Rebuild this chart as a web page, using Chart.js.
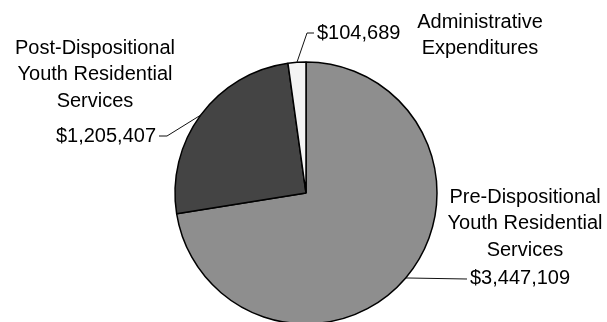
<!DOCTYPE html>
<html>
<head>
<meta charset="utf-8">
<script src="https://cdn.jsdelivr.net/npm/chart.js@4/dist/chart.umd.min.js"></script>
<style>
  html, body { margin: 0; padding: 0; background: #fff; overflow: hidden; }
  #wrap { width: 607px; height: 322px; overflow: hidden; }
</style>
</head>
<body>
<div id="wrap"><canvas id="pie" width="607" height="330"></canvas></div>
<script>
const categories = [
  ["Pre-Dispositional", "Youth Residential", "Services"],
  ["Post-Dispositional", "Youth Residential", "Services"],
  ["Administrative", "Expenditures"]
];
const amounts = [3447109, 1205407, 104689];
const sliceColors = ["#8e8e8e", "#444444", "#f4f4f4"];

const fmt = v => "$" + v.toLocaleString("en-US");

// leader line bends and label anchors, one per slice
const callouts = [
  { elbow: [467, 279], end: [467, 279], value: [470, 278, "left"], name: [525, 197] },
  { elbow: [167, 136], end: [159, 136], value: [156, 136, "right"], name: [95, 48] },
  { elbow: [307, 33], end: [314, 33], value: [317, 33, "left"], name: [480, 22] }
];

const FONT = "20px 'Liberation Sans', Arial, sans-serif";
const LINE_H = 26.7;

const callout = {
  id: "callout",
  afterDatasetsDraw(chart) {
    const c = chart.ctx;
    const arcs = chart.getDatasetMeta(0).data;
    c.save();
    c.font = FONT;
    c.fillStyle = "#000";
    c.textBaseline = "middle";
    arcs.forEach((arc, i) => {
      const { x, y, outerRadius, startAngle, endAngle } = arc.getProps(["x", "y", "outerRadius", "startAngle", "endAngle"], true);
      const mid = (startAngle + endAngle) / 2;
      const p = callouts[i];
      c.strokeStyle = "#111";
      c.lineWidth = 1;
      c.beginPath();
      c.moveTo(x + Math.cos(mid) * outerRadius, y + Math.sin(mid) * outerRadius);
      c.lineTo(p.elbow[0], p.elbow[1]);
      c.lineTo(p.end[0], p.end[1]);
      c.stroke();

      c.textAlign = p.value[2];
      c.fillText(fmt(amounts[i]), p.value[0], p.value[1]);

      c.textAlign = "center";
      categories[i].forEach((line, k) => c.fillText(line, p.name[0], p.name[1] + k * LINE_H));
    });
    c.restore();
  }
};

new Chart(document.getElementById("pie"), {
  type: "pie",
  plugins: [callout],
  data: {
    labels: categories.map(l => l.join(" ")),
    datasets: [{
      data: amounts,
      backgroundColor: sliceColors,
      borderColor: "#000",
      borderWidth: 1.5,
      hoverBorderWidth: 1.5
    }]
  },
  options: {
    responsive: false,
    animation: false,
    events: [],
    layout: { padding: { left: 174.25, right: 169.25, top: 61.25, bottom: 5.25 } },
    plugins: {
      legend: { display: false },
      tooltip: { enabled: false }
    }
  }
});
</script>
</body>
</html>
